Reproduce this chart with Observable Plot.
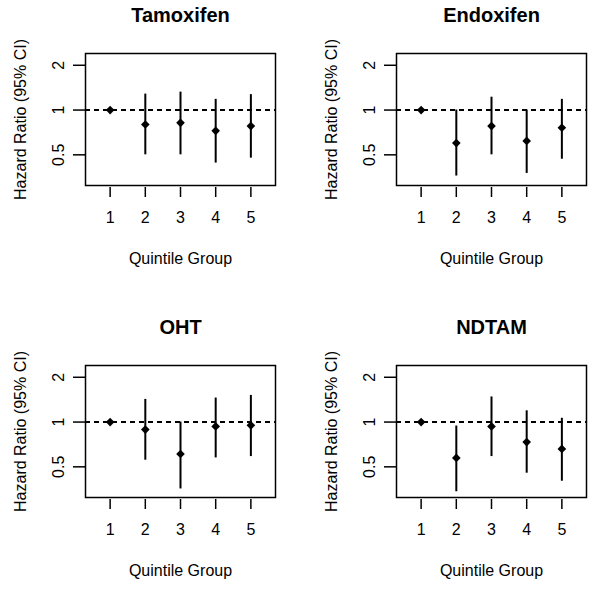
<!DOCTYPE html>
<html>
<head>
<meta charset="utf-8">
<script src="https://cdn.jsdelivr.net/npm/d3@7"></script>
<script src="https://cdn.jsdelivr.net/npm/@observablehq/plot@0.6"></script>
<style>
  body { margin: 0; background: #fff; }
  #wrap { position: relative; width: 601px; height: 591px; background: #fff; overflow: hidden; }
  .p { position: absolute; }
</style>
</head>
<body>
<div id="wrap"></div>
<script>
// Quintile groups and tick labels
const groups = [1, 2, 3, 4, 5];
const yTicks = [0.5, 1, 2];
const yTickLabels = ["0.5", "1", "2"];
const drugs = ["Tamoxifen", "Endoxifen", "OHT", "NDTAM"];
const xLabel = "Quintile Group";
const yLabel = "Hazard Ratio (95% CI)";

// Hazard ratios and 95% CI (group 1 = reference, no interval)
const tamHR = [1.00, 0.80, 0.82, 0.725, 0.78];
const tamLo = [null, 0.50, 0.50, 0.44, 0.475];
const tamHi = [null, 1.28, 1.32, 1.18, 1.27];

const endHR = [1.00, 0.60, 0.78, 0.62, 0.76];
const endLo = [null, 0.36, 0.50, 0.375, 0.467];
const endHi = [null, 1.00, 1.22, 1.00, 1.18];

const ohtHR = [1.00, 0.89, 0.61, 0.935, 0.95];
const ohtLo = [null, 0.554, 0.355, 0.574, 0.586];
const ohtHi = [null, 1.42, 1.00, 1.45, 1.51];

const ndtHR = [1.00, 0.574, 0.935, 0.733, 0.66];
const ndtLo = [null, 0.34, 0.586, 0.453, 0.40];
const ndtHi = [null, 0.94, 1.475, 1.19, 1.06];

const panels = [
  { title: drugs[0], hr: tamHR, lo: tamLo, hi: tamHi, left: 0,   top: 0 },
  { title: drugs[1], hr: endHR, lo: endLo, hi: endHi, left: 311, top: 0 },
  { title: drugs[2], hr: ohtHR, lo: ohtLo, hi: ohtHi, left: 0,   top: 312 },
  { title: drugs[3], hr: ndtHR, lo: ndtLo, hi: ndtHi, left: 311, top: 312 }
];

const wrap = document.getElementById("wrap");
const font = "'Liberation Sans', Arial, Helvetica, sans-serif";
const yTickData = yTicks.map((v, i) => ({ v, label: yTickLabels[i] }));

for (const p of panels) {
  const data = groups.map((g, i) => ({ g, hr: p.hr[i], lo: p.lo[i], hi: p.hi[i] }));
  const ci = data.filter(d => d.lo != null && d.hi != null);
  const chart = Plot.plot({
    width: 290,
    height: 279,
    marginLeft: 85,
    marginRight: 15,
    marginTop: 53,
    marginBottom: 94,
    style: { fontFamily: font, fontSize: "16px", color: "black", background: "white", overflow: "visible" },
    x: { type: "linear", domain: [0.3, 5.7] },
    y: { type: "log", domain: [0.311, 2.40] },
    marks: [
      Plot.ruleY([1], { strokeDasharray: "5,4", strokeWidth: 2, stroke: "black" }),
      Plot.ruleX(ci, { x: "g", y1: "lo", y2: "hi", strokeWidth: 2, stroke: "black" }),
      Plot.dot(data, { x: "g", y: "hr", symbol: "diamond2", r: 3.9, fill: "black", stroke: null }),
      Plot.frame({ stroke: "black", strokeWidth: 1.5 }),
      Plot.axisX({ ticks: groups, tickSize: 10, dy: 2, tickPadding: 14, strokeWidth: 1.5,
                   tickFormat: d => String(d), label: null, fontSize: 16 }),
      Plot.axisY({ ticks: yTicks, tickSize: 12, strokeWidth: 1.5, tickFormat: () => "", label: null }),
      Plot.text(yTickData, { y: "v", text: "label", frameAnchor: "left", dx: -26.5, rotate: -90, fontSize: 16,
                             lineAnchor: "middle", textAnchor: "middle" }),
      Plot.text([p.title], { text: d => d, frameAnchor: "top", dy: -38, fontWeight: "bold", fontSize: 20,
                             lineAnchor: "middle", textAnchor: "middle" }),
      Plot.text([xLabel], { text: d => d, frameAnchor: "bottom", dy: 73, fontSize: 16,
                            lineAnchor: "middle", textAnchor: "middle" }),
      Plot.text([yLabel], { text: d => d, frameAnchor: "left", dx: -65, rotate: -90, fontSize: 16,
                            lineAnchor: "middle", textAnchor: "middle" })
    ]
  });
  const div = document.createElement("div");
  div.className = "p";
  div.style.left = p.left + "px";
  div.style.top = p.top + "px";
  div.appendChild(chart);
  wrap.appendChild(div);
}
</script>
</body>
</html>
